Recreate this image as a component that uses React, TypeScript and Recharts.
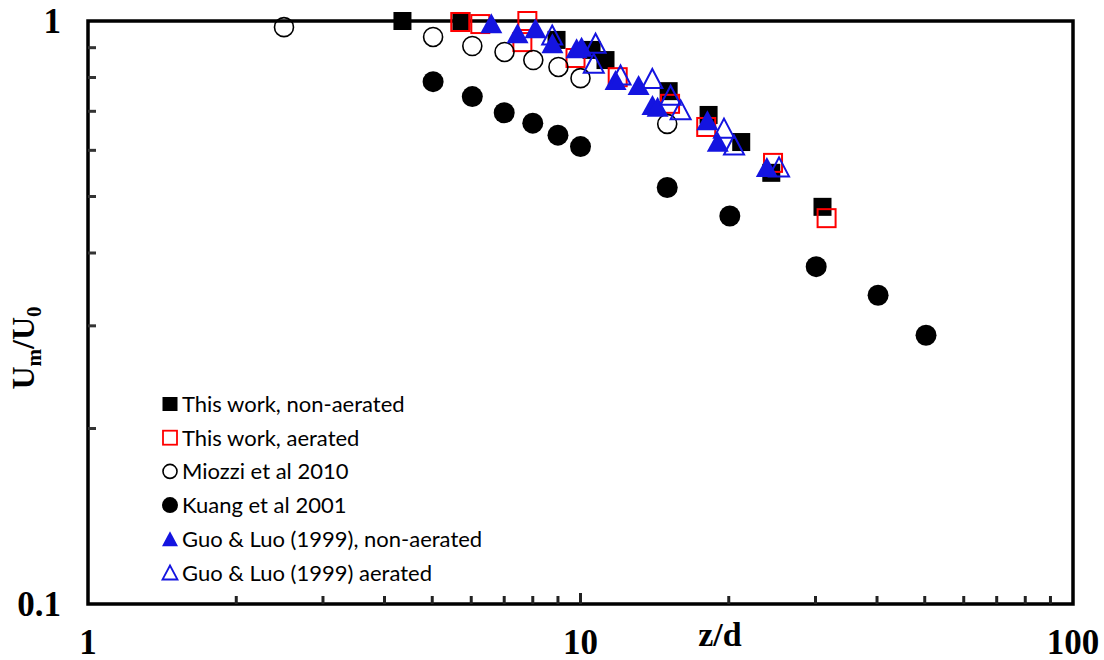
import React from 'react';
import { ScatterChart, Scatter, XAxis, YAxis, ReferenceArea, Legend, Label } from 'recharts';

// ---------- data ----------
const X_TICKS = [1, 2, 3, 4, 5, 6, 7, 8, 9, 10, 20, 30, 40, 50, 60, 70, 80, 90, 100];
const X_LABELS = [1, 10, 100];
const Y_TICKS = [0.1, 0.2, 0.3, 0.4, 0.5, 0.6, 0.7, 0.8, 0.9, 1];
const Y_LABELS = [0.1, 1];

const THIS_NON_X = [4.35, 5.73, 8.94, 10.53, 11.24, 15.1, 18.2, 21.2, 24.4, 31.0];
const THIS_NON_Y = [1.0, 1.0, 0.928, 0.892, 0.857, 0.758, 0.69, 0.62, 0.549, 0.48];

const THIS_AER_X = [5.7, 6.26, 7.8, 7.62, 9.77, 11.9, 15.2, 18.0, 24.6, 31.6];
const THIS_AER_Y = [0.996, 0.988, 1.0, 0.92, 0.864, 0.801, 0.721, 0.658, 0.571, 0.459];

const MIOZZI_X = [2.5, 5.02, 6.03, 7.01, 8.02, 9.02, 10.0, 15.0];
const MIOZZI_Y = [0.976, 0.939, 0.906, 0.885, 0.857, 0.834, 0.798, 0.666];

const KUANG_X = [5.02, 6.03, 7.0, 8.0, 9.0, 10.0, 15.0, 20.1, 30.1, 40.2, 50.3];
const KUANG_Y = [0.787, 0.742, 0.696, 0.668, 0.637, 0.609, 0.518, 0.463, 0.379, 0.3385, 0.289];

const GUO_NON_X = [6.59, 7.45, 8.1, 8.77, 9.82, 10.05, 11.78, 13.12, 14.0, 14.34, 18.1, 19.0, 23.9];
const GUO_NON_Y = [0.991, 0.953, 0.972, 0.916, 0.898, 0.903, 0.792, 0.777, 0.718, 0.713, 0.676, 0.621, 0.562];

const GUO_AER_X = [8.76, 10.73, 10.64, 12.06, 13.99, 15.24, 15.97, 19.56, 20.5, 25.3];
const GUO_AER_Y = [0.946, 0.916, 0.846, 0.808, 0.797, 0.746, 0.704, 0.655, 0.613, 0.562];

const SERIES_NAMES = [
  'This work, non-aerated',
  'This work, aerated',
  'Miozzi et al 2010',
  'Kuang et al 2001',
  'Guo & Luo (1999), non-aerated',
  'Guo & Luo (1999) aerated',
];

const BLUE = '#1414e0';
const RED = '#ff0000';

const toPts = (xs: number[], ys: number[]) => xs.map((x, i) => ({ x, y: ys[i] }));

// ---------- marker shapes ----------
const FilledSquare = (p: any) => <rect x={p.cx - 9} y={p.cy - 9} width={18} height={18} fill="#000" />;
const OpenSquare = (p: any) => (
  <rect x={p.cx - 9} y={p.cy - 9} width={18} height={18} fill="none" stroke={RED} strokeWidth={2} />
);
const OpenCircle = (p: any) => <circle cx={p.cx} cy={p.cy} r={9.5} fill="none" stroke="#000" strokeWidth={1.6} />;
const FilledCircle = (p: any) => <circle cx={p.cx} cy={p.cy} r={10.5} fill="#000" />;
const triPath = (cx: number, cy: number, w: number, h: number) =>
  `M${cx},${cy - h / 2} L${cx + w / 2},${cy + h / 2} L${cx - w / 2},${cy + h / 2} Z`;
const FilledTri = (p: any) => <path d={triPath(p.cx, p.cy, 22, 20)} fill={BLUE} />;
const OpenTri = (p: any) => (
  <path d={triPath(p.cx, p.cy, 20, 19)} fill="none" stroke={BLUE} strokeWidth={2} />
);

// ---------- axis ticks ----------
const SERIF = '"Liberation Serif", "Times New Roman", serif';

const XTick = (props: any) => {
  const { x, y, payload } = props;
  const v = payload.value;
  const isLabel = X_LABELS.includes(v);
  const edge = v === X_TICKS[0] || v === X_TICKS[X_TICKS.length - 1];
  return (
    <g>
      {!edge && (
        <line x1={x} x2={x} y1={y} y2={y - (isLabel ? 11 : 8)} stroke="#222" strokeWidth={3} />
      )}
      {isLabel && (
        <text x={x} y={y + 50} textAnchor="middle" fontFamily={SERIF} fontWeight="bold" fontSize={35} fill="#000">
          {v}
        </text>
      )}
    </g>
  );
};

const YTick = (props: any) => {
  const { x, y, payload } = props;
  const v = payload.value;
  const isLabel = Y_LABELS.includes(v);
  const edge = v === Y_TICKS[0] || v === Y_TICKS[Y_TICKS.length - 1];
  return (
    <g>
      {!edge && <line x1={x} x2={x + 8} y1={y} y2={y} stroke="#333" strokeWidth={3} />}
      {isLabel && (
        <text x={x - 27} y={y + 12} textAnchor="end" fontFamily={SERIF} fontWeight="bold" fontSize={35} fill="#000">
          {v}
        </text>
      )}
    </g>
  );
};

const XLabel = () => (
  <text x={720} y={646} textAnchor="middle" fontFamily={SERIF} fontWeight="bold" fontSize={34} fill="#000">
    z/d
  </text>
);

const YLabel = () => (
  <text
    transform="translate(34,348) rotate(-90)"
    textAnchor="middle"
    fontFamily={SERIF}
    fontWeight="bold"
    fontSize={32}
    fill="#000"
  >
    <tspan>U</tspan>
    <tspan fontSize={21} dy={7}>m</tspan>
    <tspan dy={-7}>/U</tspan>
    <tspan fontSize={21} dy={7}>0</tspan>
  </text>
);

// ---------- legend ----------
const legendIcon = (i: number, cx: number, cy: number) => {
  switch (i) {
    case 0:
      return <rect x={cx - 7.5} y={cy - 7} width={15} height={14} fill="#000" />;
    case 1:
      return <rect x={cx - 7} y={cy - 7} width={14} height={14} fill="none" stroke={RED} strokeWidth={1.8} />;
    case 2:
      return <circle cx={cx} cy={cy} r={7} fill="none" stroke="#000" strokeWidth={1.6} />;
    case 3:
      return <circle cx={cx} cy={cy} r={8} fill="#000" />;
    case 4:
      return <path d={triPath(cx, cy, 16, 15)} fill={BLUE} />;
    default:
      return <path d={triPath(cx, cy, 15, 14)} fill="none" stroke={BLUE} strokeWidth={1.8} />;
  }
};

const LegendContent = () => (
  <svg width={380} height={210} style={{ display: 'block' }}>
    {SERIES_NAMES.map((name, i) => {
      const cy = 12 + i * 33.7;
      return (
        <g key={name}>
          {legendIcon(i, 15, cy)}
          <text x={27} y={cy + 8} fontFamily="Lato, 'Open Sans', sans-serif" fontSize={22} fill="#000">
            {name}
          </text>
        </g>
      );
    })}
  </svg>
);

export default function App() {
  return (
    <div style={{ position: 'absolute', left: 0, top: 0, width: 1104, height: 660, background: '#fff' }}>
      <ScatterChart width={1104} height={660} margin={{ top: 21, right: 31, bottom: 0, left: 0 }}>
        <XAxis
          dataKey="x"
          type="number"
          scale="log"
          domain={[1, 100]}
          ticks={X_TICKS}
          interval={0}
          height={56}
          tickSize={0}
          tickMargin={0}
          tickLine={false}
          axisLine={false}
          tick={<XTick />}
        >
          <Label content={<XLabel />} />
        </XAxis>
        <YAxis
          dataKey="y"
          type="number"
          scale="log"
          domain={[0.1, 1]}
          ticks={Y_TICKS}
          interval={0}
          width={88}
          tickSize={0}
          tickMargin={0}
          tickLine={false}
          axisLine={false}
          tick={<YTick />}
        >
          <Label content={<YLabel />} />
        </YAxis>
        <ReferenceArea x1={1} x2={100} y1={0.1} y2={1} fill="none" fillOpacity={0} stroke="#000" strokeWidth={3.5} />
        <Legend
          layout="vertical"
          align="center"
          verticalAlign="middle"
          content={<LegendContent />}
          wrapperStyle={{ position: 'absolute', left: 155, top: 392, width: 380, height: 210 }}
        />
        <Scatter name={SERIES_NAMES[0]} data={toPts(THIS_NON_X, THIS_NON_Y)} shape={FilledSquare} isAnimationActive={false} />
        <Scatter name={SERIES_NAMES[1]} data={toPts(THIS_AER_X, THIS_AER_Y)} shape={OpenSquare} isAnimationActive={false} />
        <Scatter name={SERIES_NAMES[2]} data={toPts(MIOZZI_X, MIOZZI_Y)} shape={OpenCircle} isAnimationActive={false} />
        <Scatter name={SERIES_NAMES[3]} data={toPts(KUANG_X, KUANG_Y)} shape={FilledCircle} isAnimationActive={false} />
        <Scatter name={SERIES_NAMES[4]} data={toPts(GUO_NON_X, GUO_NON_Y)} shape={FilledTri} isAnimationActive={false} />
        <Scatter name={SERIES_NAMES[5]} data={toPts(GUO_AER_X, GUO_AER_Y)} shape={OpenTri} isAnimationActive={false} />
      </ScatterChart>
    </div>
  );
}
